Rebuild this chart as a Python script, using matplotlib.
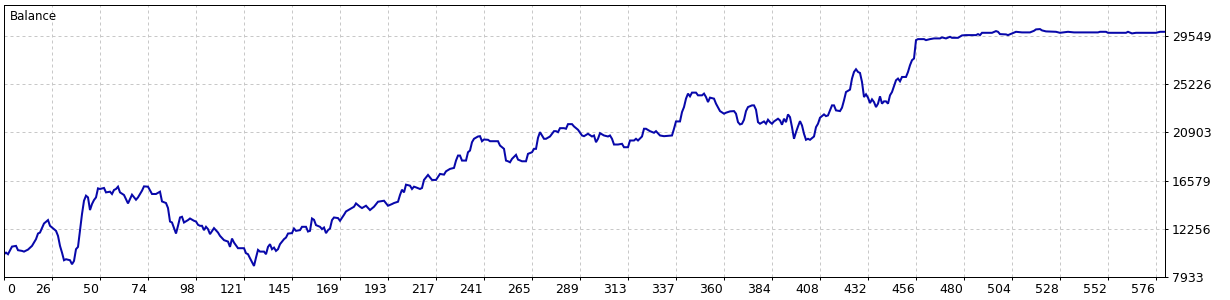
import numpy as np
import matplotlib
matplotlib.use('Agg')
import matplotlib.pyplot as plt
import matplotlib.transforms as mtransforms

# balance curve (trade number, balance)
trade_no = [0, 1, 2, 4, 6, 7, 9, 10, 12, 14, 16, 17, 18, 20, 22, 23, 26, 27, 28, 29,
            30, 31, 33, 34, 35, 36, 37, 38, 39, 40, 41, 42, 43, 44, 45, 46, 47, 48, 50, 51,
            53, 54, 55, 56, 57, 58, 60, 62, 64, 66, 67, 69, 70, 72, 74, 76, 78, 79, 81, 82,
            83, 84, 86, 87, 88, 89, 90, 92, 93, 95, 96, 97, 98, 99, 100, 101, 102, 103, 105, 107,
            108, 110, 112, 113, 114, 115, 117, 120, 121, 122, 123, 125, 126, 127, 128, 130, 131, 132, 133, 134,
            135, 136, 137, 138, 140, 141, 142, 144, 145, 146, 148, 149, 151, 152, 153, 154, 155, 156, 158, 159,
            160, 161, 162, 163, 164, 165, 167, 168, 170, 171, 173, 175, 176, 178, 179, 181, 183, 185, 187, 190,
            192, 194, 195, 197, 198, 199, 200, 201, 203, 204, 205, 206, 208, 209, 210, 212, 214, 216, 218, 220,
            221, 223, 225, 226, 227, 228, 229, 231, 232, 233, 234, 235, 237, 238, 239, 240, 242, 243, 247, 248,
            250, 251, 252, 253, 254, 256, 257, 259, 261, 262, 264, 265, 266, 267, 268, 270, 271, 273, 275, 276,
            277, 278, 280, 281, 282, 284, 285, 287, 289, 290, 292, 294, 295, 296, 297, 298, 300, 302, 303, 304,
            305, 307, 309, 310, 312, 313, 315, 316, 317, 319, 320, 321, 323, 325, 326, 328, 330, 334, 335, 336,
            338, 339, 340, 341, 342, 343, 344, 346, 347, 349, 350, 351, 352, 353, 355, 356, 358, 360, 361, 363,
            365, 366, 367, 368, 369, 370, 371, 372, 374, 375, 376, 377, 378, 380, 381, 382, 383, 384, 385, 387,
            388, 389, 390, 391, 392, 393, 394, 395, 396, 397, 398, 399, 400, 401, 402, 403, 405, 406, 407, 408,
            410, 411, 412, 414, 415, 416, 418, 419, 420, 421, 423, 424, 425, 426, 427, 428, 429, 430, 431, 432,
            433, 434, 435, 436, 437, 438, 439, 440, 441, 442, 443, 444, 445, 446, 447, 448, 449, 451, 452, 453,
            454, 455, 456, 457, 460, 461, 463, 465, 468, 469, 471, 473, 474, 477, 479, 481, 486, 487, 488, 489,
            494, 496, 497, 498, 501, 502, 504, 506, 509, 513, 515, 516, 518, 519, 521, 526, 528, 532, 535, 547,
            548, 551, 552, 561, 562, 564, 566, 576, 578, 580]
balance = [9978, 10122, 9978, 10662, 10725, 10338, 10275, 10212, 10392, 10725, 11329, 11833, 11923, 12734, 13040, 12527, 12076, 11626, 10725, 10122,
           9437, 9527, 9437, 9077, 9374, 10428, 10635, 12076, 13580, 14778, 15229, 15076, 13941, 14481, 14841, 15076, 15886, 15832, 15922, 15526,
           15589, 15382, 15742, 15832, 16039, 15526, 15292, 14535, 15319, 14868, 15076, 15679, 16066, 16039, 15382, 15382, 15589, 14715, 14571, 14121,
           12914, 12824, 11833, 12527, 13274, 13337, 12824, 13040, 13184, 12977, 12914, 12617, 12527, 12527, 12139, 12437, 12229, 11779, 12319, 11923,
           11626, 11239, 11112, 10635, 11383, 11022, 10518, 10518, 10068, 9978, 9617, 8924, 9671, 10365, 10212, 10212, 9978, 10635, 10878, 10428,
           10572, 10275, 10428, 10878, 11329, 11473, 11833, 11869, 12283, 12076, 12139, 12437, 12437, 12013, 12076, 13184, 13067, 12590, 12437, 12229,
           12373, 11869, 12139, 12283, 13040, 13274, 13220, 12977, 13517, 13815, 14031, 14238, 14535, 14238, 14121, 14328, 13941, 14238, 14688, 14778,
           14328, 14481, 14571, 14688, 15292, 15769, 15526, 16219, 16129, 15832, 16039, 15976, 15832, 15922, 16643, 17093, 16643, 16643, 17183, 17120,
           17417, 17634, 17724, 18381, 18831, 18831, 18381, 18381, 19129, 19282, 20029, 20336, 20543, 20570, 20119, 20273, 20246, 20119, 20119, 19732,
           19435, 18381, 18318, 18228, 18534, 18895, 18471, 18318, 18318, 18985, 19129, 19435, 19435, 20426, 20930, 20336, 20336, 20543, 21020, 21020,
           20930, 21290, 21290, 21236, 21651, 21651, 21444, 21146, 20633, 20570, 20786, 20543, 20633, 20029, 20336, 20840, 20633, 20543, 20633, 20336,
           19822, 19822, 19885, 19579, 19579, 20183, 20183, 20336, 20183, 20543, 21236, 21236, 21020, 20876, 21020, 20633, 20570, 20633, 21236, 21894,
           21894, 22732, 23182, 23938, 24389, 24146, 24479, 24479, 24236, 24236, 24389, 24083, 23632, 24029, 23938, 23488, 22822, 22587, 22677, 22795,
           22822, 22587, 21831, 21624, 21687, 22047, 22822, 23182, 23335, 23335, 22948, 21831, 21687, 21894, 21687, 22047, 21831, 21687, 21894, 22137,
           21984, 21597, 22137, 21831, 22524, 22281, 21380, 20336, 20930, 21444, 21921, 21534, 20786, 20246, 20336, 20246, 20543, 21380, 21687, 22227,
           22524, 22371, 22434, 23335, 23335, 22885, 22822, 23128, 23785, 24533, 24749, 25740, 26334, 26577, 26334, 26244, 25434, 24083, 24326, 24029,
           23542, 23875, 23632, 23182, 23488, 24146, 23488, 23695, 23695, 23488, 24236, 24533, 25046, 25587, 25740, 25497, 25884, 25884, 26334, 26938,
           27388, 27541, 29190, 29280, 29280, 29190, 29280, 29343, 29343, 29433, 29343, 29487, 29397, 29397, 29613, 29640, 29640, 29730, 29640, 29847,
           29847, 30000, 29937, 29730, 29703, 29640, 29793, 29937, 29883, 29883, 30027, 30153, 30180, 30063, 29973, 29937, 29847, 29937, 29883, 29883,
           29937, 29937, 29847, 29847, 29937, 29793, 29847, 29847, 29937, 29937]

x_tick_labels = ['0', '26', '50', '74', '98', '121', '145', '169', '193', '217', '241', '265', '289',
                 '313', '337', '360', '384', '408', '432', '456', '480', '504', '528', '552', '576']
y_ticks = [7933, 12256, 16579, 20903, 25226, 29549]

W, H = 1230, 300
fig = plt.figure(figsize=(W / 100, H / 100), dpi=100)
ax = fig.add_axes([4 / W, 23 / H, 1161 / W, 272.5 / H])

ax.plot(trade_no, balance, color='#0808AA', lw=1.45, solid_joinstyle='miter')

ax.set_xlim(0, 580.5)
ax.set_ylim(7933, 32387)

x_ticks = np.arange(len(x_tick_labels)) * 24
ax.set_xticks(x_ticks)
ax.set_xticklabels(x_tick_labels)
ax.set_yticks(y_ticks)
ax.set_yticklabels([str(v) for v in y_ticks])

ax.yaxis.tick_right()
ax.tick_params(axis='both', direction='out', length=2.2, width=0.72, color='black',
               labelsize=9, labelcolor='black')
ax.tick_params(axis='x', pad=1.8)
ax.tick_params(axis='y', pad=2.6)

ax.grid(True, color='#C8C8C8', lw=0.72, linestyle=(0, (3, 3)))
for s in ax.spines.values():
    s.set_color('black')
    s.set_linewidth(0.72)

# MT-style labels sit to the left of their tick
left_shift = mtransforms.ScaledTranslation(-1 / 100, 0, fig.dpi_scale_trans)
right_shift = mtransforms.ScaledTranslation(3 / 100, 0, fig.dpi_scale_trans)
for i, lab in enumerate(ax.get_xticklabels()):
    if i == 0:
        lab.set_horizontalalignment('left')
        lab.set_transform(lab.get_transform() + right_shift)
    else:
        lab.set_horizontalalignment('right')
        lab.set_transform(lab.get_transform() + left_shift)

fig.text(10 / W, 1 - 16.7 / H, 'Balance', fontsize=8.5, va='center', ha='left', color='black')

fig.savefig('out.png', dpi=100)
